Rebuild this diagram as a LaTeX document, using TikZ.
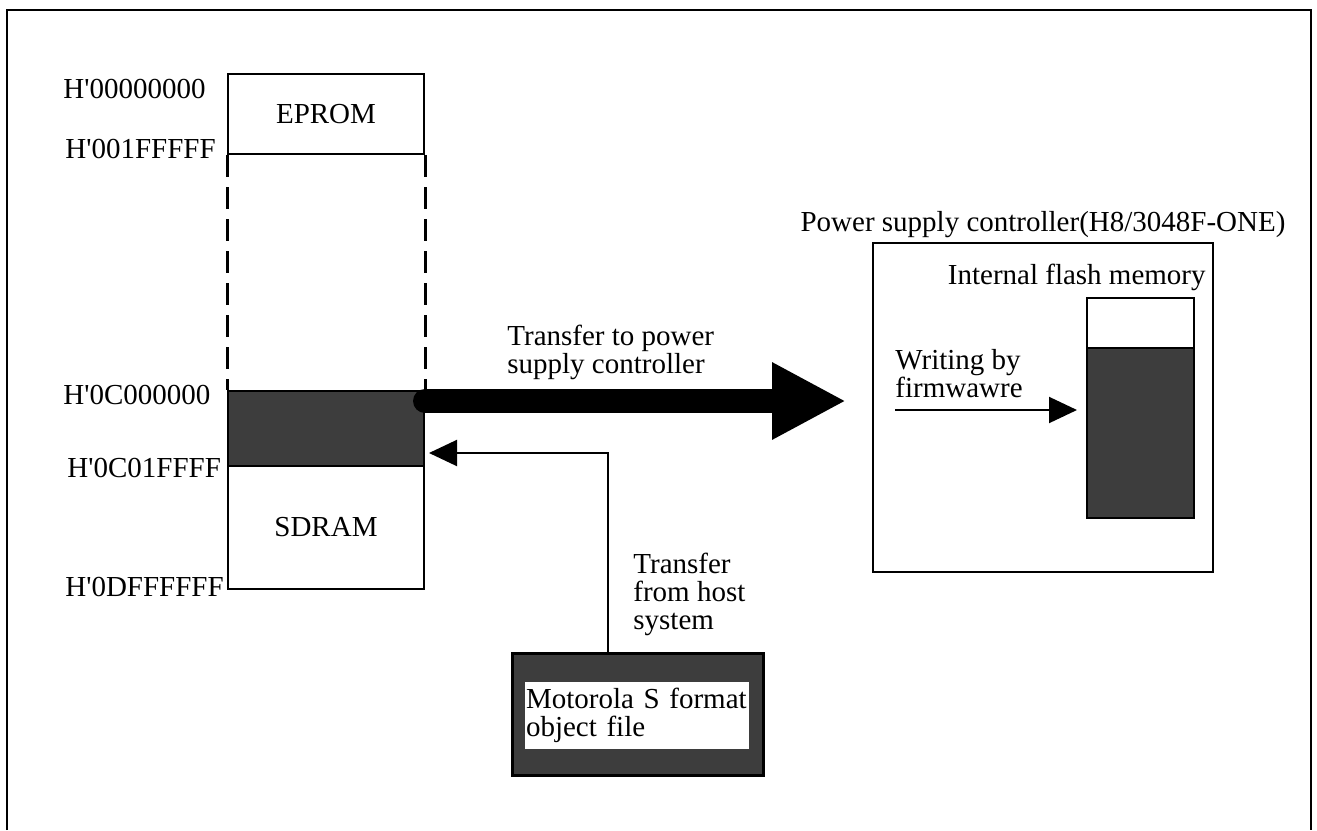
\documentclass[tikz,border=0pt]{standalone}
\usepackage{fontspec}
\setmainfont{Liberation Serif}
\usetikzlibrary{arrows.meta}
\colorlet{hatch}{black!76}
\begin{document}
\begin{tikzpicture}[x=0.5pt,y=-0.5pt,
  font=\fontsize{14.5}{14}\selectfont,
  box/.style={draw, line width=1pt, inner sep=0pt},
  shaded/.style={box, fill=hatch},
  addr/.style={anchor=west, inner sep=0pt},
  txt/.style={align=left, inner sep=0pt, anchor=west},
  thinarrow/.style={line width=1pt, -{Triangle[length=14pt,width=13pt]}}]
  \useasboundingbox (0,0) rectangle (1317,830);
  \draw[line width=1pt] (7,830) -- (7,10) -- (1311,10) -- (1311,830);
  % memory map
  \node[box, minimum width=98pt, minimum height=40pt] (eprom) at (326,114) {EPROM};
  \node[shaded, minimum width=98pt, minimum height=37.5pt] (buf) at (326,428.5) {};
  \node[box, minimum width=98pt, minimum height=61.5pt] (sdram) at (326,527.5) {SDRAM};
  \draw[line width=1.5pt, dash pattern=on 11pt off 5pt] (eprom.south west) -- (buf.north west);
  \draw[line width=1.5pt, dash pattern=on 11pt off 5pt] (eprom.south east) -- (buf.north east);
  \node[addr] (a0) at (63,89) {H\textquotesingle 00000000};
  \node[addr] (a1) at (65,149) {H\textquotesingle 001FFFFF};
  \node[addr] (a2) at (63,395) {H\textquotesingle 0C000000};
  \node[addr] (a3) at (67,468) {H\textquotesingle 0C01FFFF};
  \node[addr] (a4) at (65,587) {H\textquotesingle 0DFFFFFF};
  % power supply controller
  \node[box, minimum width=170pt, minimum height=164.5pt] (ctrl) at (1043,407.5) {};
  \node[anchor=base, inner sep=0pt] (ctrltitle) at ([yshift=5.5pt]ctrl.north) {Power supply controller(H8/3048F-ONE)};
  \node[box, minimum width=53.5pt, minimum height=110pt] (flash) at (1140.5,408) {};
  \node[shaded, minimum width=53.5pt, minimum height=85pt] (fw) at (1140.5,433) {};
  \node[anchor=base east, inner sep=0pt] (flashlbl) at (1206,284) {Internal flash memory};
  \node[txt] (wrlbl) at (895,374) {Writing by\\firmwawre};
  \coordinate (wrstart) at (895,410);
  \draw[thinarrow, shorten >=4.5pt] (wrstart) -- (fw.west |- wrstart);
  % transfer to controller
  \coordinate (bigstart) at (424,401);
  \draw[line width=12pt, line cap=round, -{Triangle[length=37pt,width=36pt]}, shorten >=13pt]
    (buf.east |- bigstart) -- (ctrl.west |- bigstart);
  \node[txt] (tolbl) at (507,352) {Transfer to power\\supply controller};
  % host file
  \node[shaded, line width=1.5pt, minimum width=125.5pt, minimum height=61pt] (file) at (637.5,714) {};
  \node[fill=white, text width=111pt, inner sep=0.5pt, minimum height=33.5pt, align=left] (filetxt) at (637,715.5) {Motorola S format\\object file};
  \coordinate (hostbend) at (608,453);
  \draw[thinarrow, shorten >=2pt] (file.north -| hostbend) -- (hostbend) -- (buf.east |- hostbend);
  \node[txt] (fromlbl) at (633,594) {Transfer\\from host\\system};
\end{tikzpicture}
\end{document}
